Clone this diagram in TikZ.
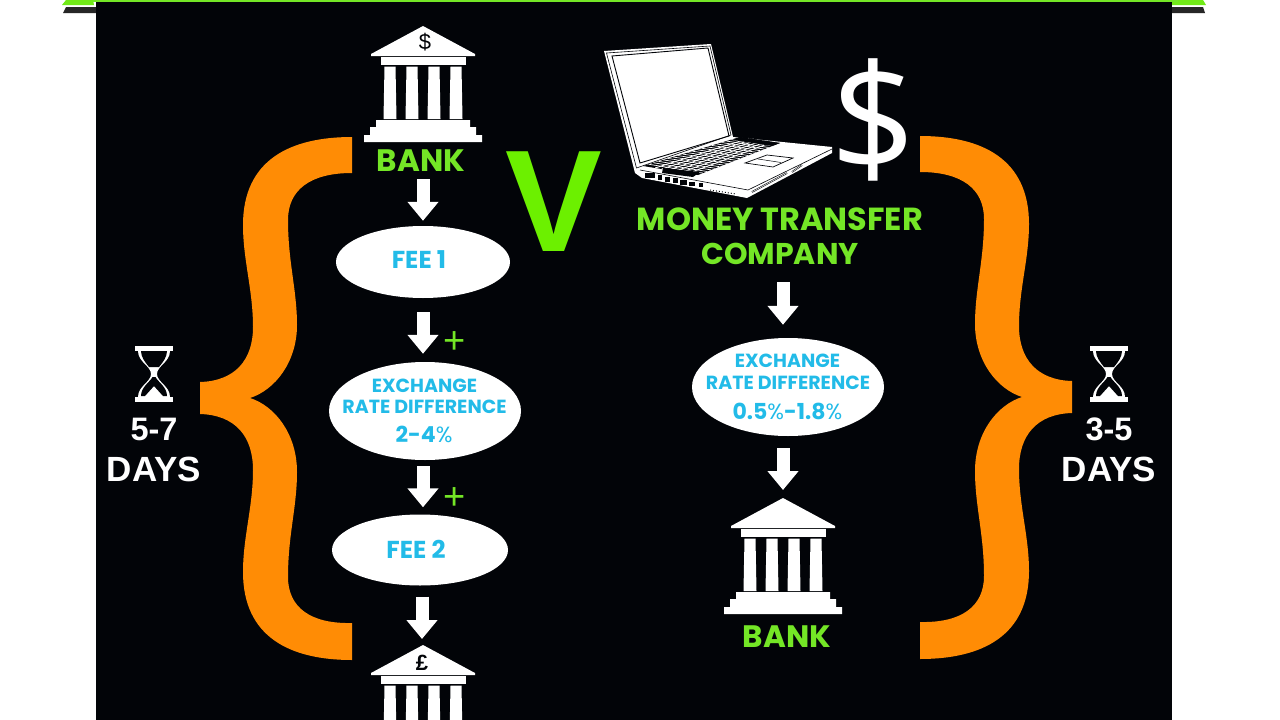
\documentclass[tikz,border=0pt]{standalone}
\usepackage{fontspec}
\setmainfont{Liberation Sans}
\newfontfamily\pop{Poppins}
\usetikzlibrary{arrows.meta,shapes.geometric,calc}
\definecolor{bg}{HTML}{020408}
\definecolor{lime}{HTML}{74E626}
\definecolor{vgreen}{HTML}{6CF000}
\definecolor{orng}{HTML}{FF8C05}
\definecolor{cyn}{HTML}{22BBE8}
\newcommand{\fsz}[1]{\fontsize{#1}{#1}\selectfont}
\newcommand{\bracepath}{
 (352,137) .. controls (290,137) and (243,160) .. (243,225)
 .. controls (243,260) and (253,290) .. (253,327)
 .. controls (253,360) and (235,381) .. (200,382)
 -- (200,414)
 .. controls (235,415) and (253,436) .. (253,470)
 .. controls (253,507) and (243,537) .. (243,572)
 .. controls (243,637) and (290,660) .. (352,660)
 -- (352,623)
 .. controls (310,624) and (288,607) .. (288,577)
 .. controls (288,535) and (297,507) .. (297,472)
 .. controls (297,434) and (275,406) .. (250,398)
 .. controls (275,390) and (297,362) .. (297,325)
 .. controls (297,290) and (288,262) .. (288,220)
 .. controls (288,190) and (310,173) .. (352,173) -- cycle}
\tikzset{
 x=1pt,y=-1pt,
 bubble/.style={ellipse,fill=white,inner sep=0pt},
 bubtxt/.style={text=cyn,inner sep=0pt,font=\pop\bfseries\fsz{19}},
 bubnum/.style={text=cyn,inner sep=0pt,font=\pop\fsz{22}},
 feetxt/.style={text=cyn,inner sep=0pt,font=\pop\bfseries\fsz{24.5}},
 blockarr/.style={draw=white,line width=13pt,-{Triangle[width=30pt,length=19pt,fill=white]}},
 banklabel/.style={text=lime,font=\pop\bfseries\fsz{31},inner sep=0pt},
 dayslabel/.style={text=white,font=\bfseries\fsz{35},inner sep=0pt},
 numlabel/.style={text=white,font=\bfseries\fsz{32.5},inner sep=0pt},
 plusmark/.style={text=lime,font=\fsz{38},inner sep=0pt},
 pics/bankicon/.style={code={
  \fill[white] (0,0) -- (52,28) -- (52,30) -- (-52,30) -- (-52,28) -- cycle;
  \fill[white] (-42,31) rectangle (43,39);
  \foreach \c in {-33,-11,11,33}{
   \fill[white] (\c-5.5,40.5) -- (\c+5.5,40.5) -- (\c+6.5,93) -- (\c-6.5,93) -- cycle;}
  \fill[white] (-47,94) -- (47,94) -- (47,101) -- (53,101) -- (53,109) -- (59,109) -- (59,116) -- (-59,116) -- (-59,109) -- (-53,109) -- (-53,101) -- (-47,101) -- cycle;
 }},
 pics/hourglass/.style={code={
  \fill[white] (-19,0) rectangle (19,5);
  \fill[white] (-19,51) rectangle (19,56);
  \fill[white] (-16,5) .. controls (-16,16) and (-3,20) .. (-3,28)
    .. controls (-3,36) and (-16,40) .. (-16,51) -- (16,51)
    .. controls (16,40) and (3,36) .. (3,28)
    .. controls (3,20) and (16,16) .. (16,5) -- cycle;
  \fill[bg] (-13,5) .. controls (-13,11) and (-9,16) .. (-5,21) -- (5,21) .. controls (9,16) and (13,11) .. (13,5) -- cycle;
  \fill[bg] (-1.5,31) .. controls (-4,36) and (-13,41) .. (-13,50) -- (-9,50) -- (0,40) -- (9,50) -- (13,50) .. controls (13,41) and (4,36) .. (1.5,31) -- cycle;
 }},
}
\begin{document}
\begin{tikzpicture}
\useasboundingbox (0,0) rectangle (1280,720);
\clip (0,0) rectangle (1280,720);
\fill[white] (0,0) rectangle (1280,720);
% poster corners
\fill[lime!60!vgreen] (66,0) -- (93,0) -- (94,5) -- (62,5) -- cycle;
\fill[lime!60!vgreen] (1172,0) -- (1203,0) -- (1206,5) -- (1172,5) -- cycle;
\fill[black!85] (66,7) -- (96,7) -- (96,13) -- (63,13) -- cycle;
\fill[black!85] (1172,7) -- (1203,7) -- (1205,13) -- (1172,13) -- cycle;
\fill[bg] (96,0) rectangle (1172,720);
\fill[lime] (93,0) rectangle (1178,2);
% braces
\fill[orng] \bracepath;
\begin{scope}[shift={(1272,-1)},xscale=-1]
 \fill[orng] \bracepath;
\end{scope}
% left column
\coordinate (bankTL) at (423,26);
\pic at (bankTL) {bankicon};
\node[inner sep=0pt,font=\fsz{22},text=bg] (dollarL) at (425,42) {\$};
\node[banklabel] (lblBankL) at (421,161) {BANK};
\node[bubble,minimum width=174pt,minimum height=72pt] (fee1) at (423,262) {};
\node[feetxt] (fee1t) at (419,260) {FEE 1};
\node[bubble,minimum width=192pt,minimum height=98pt] (ex1) at (425,411) {};
\node[bubtxt] (ex1a) at (424.5,386) {EXCHANGE};
\node[bubtxt] (ex1b) at (424.5,407) {RATE DIFFERENCE};
\node[bubnum] (ex1c) at (424,434) {\textbf{2-4}\%};
\node[bubble,minimum width=176pt,minimum height=71pt] (fee2) at (420,550) {};
\node[feetxt] (fee2t) at (416,549) {FEE 2};
\coordinate (bankBL) at (423,645);
\pic at (bankBL) {bankicon};
\node[inner sep=0pt,font=\bfseries\fsz{22},text=bg] (pound) at (422,663) {£};
\draw[blockarr,shorten <=7pt,shorten >=5pt] (lblBankL.south -| fee1.north) -- (fee1.north);
\draw[blockarr,shorten <=14pt,shorten >=8pt] (fee1.south) -- (fee1.south |- ex1.north);
\draw[blockarr,shorten <=6pt,shorten >=7pt] ([xshift=-2pt]ex1.south) -- ([xshift=-2pt]ex1.south |- fee2.north);
\draw[blockarr,shorten <=11pt,shorten >=6pt] ([xshift=2pt]fee2.south) -- ([xshift=2pt]fee2.south |- bankBL);
\node[plusmark] (plus1) at (455,343) {+};
\node[plusmark] (plus2) at (455,499) {+};
% V
\node[inner sep=0pt,text=vgreen,font=\bfseries\fsz{145}] (vs) at (554,202) {V};
% laptop
\fill[white] (604,51) -- (711,44) -- (733,137) -- (832,147) -- (832,153) -- (747,198) -- (642,178) -- (635,173) -- cycle;
\draw[bg,line width=0.6pt] (606.5,53) -- (710,46) -- (731,135) -- (636.5,168) -- cycle;
\draw[bg,line width=0.9pt] (612,56) -- (708,48) -- (729,136) -- (640,163) -- cycle;
% keyboard
\coordinate (ka) at (643,166);
\coordinate (kb) at (740,137);
\coordinate (kc) at (780,143);
\coordinate (kd) at (698,175);
\fill[bg] (ka) -- (kb) -- (kc) -- (kd) -- cycle;
\foreach \t in {0.06,0.11,...,0.96}{
 \draw[white,line width=0.7pt] ($(ka)!\t!(kb)$) -- ($(kd)!\t!(kc)$);}
\foreach \t in {0.22,0.34,0.46,0.58,0.7,0.82}{
 \draw[white,line width=0.9pt] ($(ka)!\t!(kd)$) -- ($(kb)!\t!(kc)$);}
\fill[bg] (740,137) -- (780,143) -- (772,146) -- (733,140) -- cycle;
\fill[bg] (663,168) -- (700,172) -- (693,177) -- (662,173) -- cycle;
\draw[bg,line width=0.7pt] (745,163) -- (767,155) -- (793,158) -- (773,167) -- cycle;
\draw[bg,line width=0.5pt] (758,159) -- (781,162.5);
% front edge
\draw[bg,line width=0.6pt] (640,170) -- (748,190) -- (832,149);
\foreach \xa/\ya/\xb/\yb in {645/173/655/178,658/175/662/180,665/177/670/182,673/178/678/183,680/180/687/185,689/182/695/186,699/183/703/187}{
 \fill[bg] (\xa,\ya) rectangle (\xb,\yb);}
\draw[bg,line width=1.6pt] (752,192) -- (787,173);
\draw[white,line width=0.5pt] (752,192) -- (787,173);
\draw[bg,line width=1.6pt] (792,172) -- (802,165);
\draw[white,line width=0.5pt] (792,172) -- (802,165);
\draw[bg,line width=1pt,dotted] (710,190) -- (736,194);
% big dollar
\node[inner sep=0pt,text=white,font=\fontspec{Open Sans}\fsz{150}] (bigd) at (873,120) {\$};
\node[banklabel,font=\pop\bfseries\fsz{31.9}] (mtc1) at (780,219) {MONEY TRANSFER};
\node[banklabel,font=\pop\bfseries\fsz{30}] (mtc2) at (780,254) {COMPANY};
% right column
\node[bubble,minimum width=192pt,minimum height=98pt] (ex2) at (788,387) {};
\node[bubtxt] (ex2a) at (787.5,361) {EXCHANGE};
\node[bubtxt] (ex2b) at (788,383) {RATE DIFFERENCE};
\node[bubnum] (ex2c) at (787.5,411) {\textbf{0.5}\%\textbf{-1.8}\%};
\coordinate (bankTR) at (783,498);
\pic at (bankTR) {bankicon};
\node[banklabel] (lblBankR) at (787,637) {BANK};
\draw[blockarr,shorten <=17pt,shorten >=13pt] ([xshift=3pt]mtc2.south) -- ([xshift=3pt]mtc2.south |- ex2.north);
\draw[blockarr,shorten <=12pt,shorten >=8pt] ([xshift=-5pt]ex2.south) -- ([xshift=-5pt]ex2.south |- bankTR);
% hourglasses and durations
\coordinate (hgL) at (154,346);
\coordinate (hgR) at (1109,346);
\pic at (hgL) {hourglass};
\pic at (hgR) {hourglass};
\node[numlabel] (d1) at (154,429) {5-7};
\node[dayslabel] (d2) at (154,469) {DAYS};
\node[numlabel] (d3) at (1109,429) {3-5};
\node[dayslabel] (d4) at (1109,469) {DAYS};
\end{tikzpicture}
\end{document}
